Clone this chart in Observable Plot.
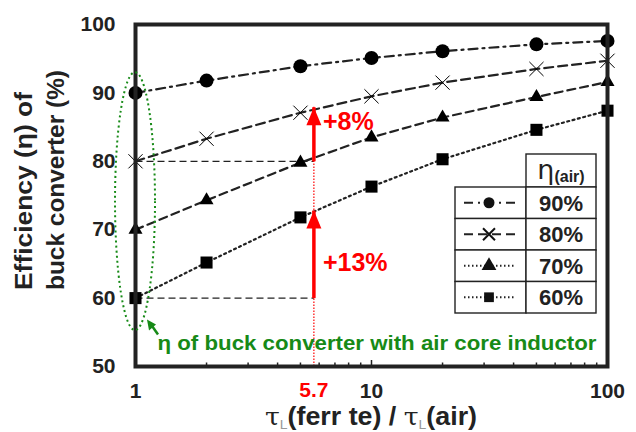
<!DOCTYPE html>
<html><head><meta charset="utf-8">
<script src="https://cdn.jsdelivr.net/npm/d3@7"></script>
<script src="https://cdn.jsdelivr.net/npm/@observablehq/plot@0.6"></script>
<style>body{margin:0;background:#fff;font-family:"Liberation Sans",Arial,sans-serif} #chart{width:636px;height:432px}</style>
</head><body><div id="chart"></div>
<script>
// ---- data ----
const ratios = [1, 2, 5, 10, 20, 50, 100];
const eta90 = [90, 91.8, 93.9, 95.1, 96.1, 97.1, 97.6];
const eta80 = [80, 83.3, 87.1, 89.5, 91.5, 93.5, 94.7];
const eta70 = [70, 74.3, 79.8, 83.5, 86.4, 89.4, 91.6];
const eta60 = [60, 65.2, 71.8, 76.3, 80.3, 84.6, 87.4];
const seriesLabels = ["90%", "80%", "70%", "60%"];
const yTicks = [50, 60, 70, 80, 90, 100];
const xTicks = [1, 10, 100];
const minorTicks = [2, 3, 4, 5, 6, 7, 8, 9, 20, 30, 40, 50, 60, 70, 80, 90];
const markRatio = 5.7;
const gainFrom = [80, 60];
const gainTo = [87.9, 72.8];
const gainLabelY = [85.7, 65.2];
const gainLabels = ["+8%", "+13%"];
const noteText = "η of buck converter with air core inductor";
const noteY = 53.4;

// ---- styles ----
const INK = "#222";
const GREEN = "#178a17";
const RED = "#ff0000";
const styles = [
  {dash: "9,5,2,5", symbol: "circle", r: 7, fill: "#000", stroke: "none", sw: 0},
  {dash: "9,5", symbol: "times", r: 6.5, fill: "none", stroke: "#000", sw: 1},
  {dash: "8,5", symbol: "triangle", r: 5.2, fill: "#000", stroke: "none", sw: 0},
  {dash: "2,3.5", symbol: "square", r: 6.8, fill: "#000", stroke: "none", sw: 0}
];
const allSeries = [eta90, eta80, eta70, eta60];
const rows = [];
allSeries.forEach((vals, s) => ratios.forEach((r, i) => rows.push({s, x: r, y: vals[i]})));

const arrowHead = {draw(ctx) { ctx.moveTo(0, 0); ctx.lineTo(7.5, 18); ctx.lineTo(-7.5, 18); ctx.closePath(); }};
const gains = gainFrom.map((f, i) => ({x: markRatio, y1: f, y2: gainTo[i], ly: gainLabelY[i], label: gainLabels[i]}));

const marks = [];
// reference dashed guides
marks.push(Plot.link(gainFrom, {x1: 1, x2: markRatio, y1: d => d, y2: d => d, stroke: INK, strokeWidth: 1.2, strokeDasharray: "7,4"}));
marks.push(Plot.ruleX([markRatio], {y1: 50, y2: gainTo[0], stroke: RED, strokeWidth: 1.2, strokeDasharray: "1.5,1.5"}));
// series
allSeries.forEach((vals, s) => {
  const st = styles[s];
  const data = rows.filter(d => d.s === s);
  marks.push(Plot.line(data, {x: "x", y: "y", stroke: INK, strokeWidth: 2.2, strokeDasharray: st.dash}));
  marks.push(Plot.dot(data, {x: "x", y: "y", symbol: st.symbol, r: st.r, fill: st.fill, stroke: st.stroke, strokeWidth: st.sw}));
});
// red gain arrows
marks.push(Plot.link(gains, {x1: "x", x2: "x", y1: "y1", y2: "y2", stroke: RED, strokeWidth: 3.5}));
marks.push(Plot.dot(gains, {x: "x", y: "y2", symbol: arrowHead, r: 5, fill: RED, stroke: "none"}));
marks.push(Plot.text(gains, {x: "x", y: "ly", text: "label", dx: 9, textAnchor: "start", fill: RED, fontSize: 25, fontWeight: "bold"}));
// red 5.7 label
marks.push(Plot.text([markRatio], {x: d => d, y: 50, text: d => String(d), dy: 24, fill: RED, fontSize: 21, fontWeight: "bold"}));
// green note
marks.push(Plot.text([noteText], {x: 1, y: noteY, text: d => d, dx: 22, textAnchor: "start", fill: GREEN, fontSize: 20, fontWeight: "bold"}));
// axes
marks.push(Plot.axisY(yTicks, {tickSize: 0, tickPadding: 20, fontSize: 21, fontWeight: "bold", fill: INK, label: null}));
marks.push(Plot.axisX(xTicks, {tickSize: -6, tickPadding: 22.5, fontSize: 21, fontWeight: "bold", fill: INK, stroke: INK, strokeWidth: 1.5, label: null}));
marks.push(Plot.axisX(minorTicks, {tickSize: -3.5, tickFormat: () => "", stroke: INK, strokeWidth: 1.5, label: null}));
marks.push(Plot.frame({stroke: INK, strokeWidth: 4}));

const plot = Plot.plot({
  width: 636, height: 432,
  marginLeft: 135, marginRight: 29, marginTop: 24, marginBottom: 66,
  style: {fontFamily: "'Liberation Sans', Arial, sans-serif", background: "#fff", overflow: "visible"},
  x: {type: "log", domain: [1, 100]},
  y: {domain: [50, 100]},
  marks
});
document.getElementById("chart").appendChild(plot);

const svg = d3.select(plot);
const X = plot.scale("x"), Y = plot.scale("y");
const FONT = "'Liberation Sans', Arial, sans-serif";

// stretch the green note to the reference width
svg.selectAll("text").filter(function () { return this.textContent === noteText; })
  .attr("textLength", 439).attr("lengthAdjust", "spacingAndGlyphs");

// green ellipse around air-core points
svg.append("ellipse")
  .attr("cx", X.apply(1)).attr("cy", Y.apply(74.1))
  .attr("rx", 20).attr("ry", 129)
  .attr("fill", "none").attr("stroke", GREEN).attr("stroke-width", 2).attr("stroke-dasharray", "2,3");
// green pointer arrow
{
  const tx = X.apply(1) + 12, ty = Y.apply(56.8);
  const g = svg.append("g").attr("fill", GREEN).attr("stroke", GREEN);
  g.append("line").attr("x1", tx + 11).attr("y1", ty + 15).attr("x2", tx + 4).attr("y2", ty + 5).attr("stroke-width", 2.5);
  g.append("path").attr("d", `M${tx},${ty} l2,11 l7,-6 z`).attr("stroke", "none");
}

// axis titles
const xt = svg.append("text").attr("x", 371).attr("y", 425).attr("text-anchor", "middle")
  .attr("font-family", FONT).attr("font-size", 25).attr("font-weight", "bold").attr("fill", INK)
  .attr("textLength", 212).attr("lengthAdjust", "spacingAndGlyphs");
xt.append("tspan").attr("font-family", "'DejaVu Serif', serif").attr("font-weight", "normal").text("τ");
xt.append("tspan").attr("font-size", 13).attr("font-weight", "normal").attr("dy", 4).attr("fill", "#999").text("L");
xt.append("tspan").attr("dy", -4).text("(ferr te) / ");
xt.append("tspan").attr("font-family", "'DejaVu Serif', serif").attr("font-weight", "normal").text("τ");
xt.append("tspan").attr("font-size", 13).attr("font-weight", "normal").attr("dy", 4).attr("fill", "#999").text("L");
xt.append("tspan").attr("dy", -4).text("(air)");

[["Efficiency (η) of", 32, 198], ["buck converter (%)", 64, 220]].forEach(([t, bx, len]) => {
  svg.append("text").attr("transform", `translate(${bx},290) rotate(-90)`).attr("text-anchor", "start")
    .attr("font-family", FONT).attr("font-size", 24).attr("font-weight", "bold").attr("fill", INK)
    .attr("textLength", len).attr("lengthAdjust", "spacingAndGlyphs").text(t);
});

// legend table
{
  const L = 455, M = 526, R = 596, top = 154, r0 = 187, rh = 31.5;
  const g = svg.append("g").attr("font-family", FONT);
  const cell = (x, y, w, h) => g.append("rect").attr("x", x).attr("y", y).attr("width", w).attr("height", h)
    .attr("fill", "#fff").attr("stroke", INK).attr("stroke-width", 1.4);
  cell(M, top, R - M, r0 - top);
  const ht = g.append("text").attr("x", (M + R) / 2).attr("y", 179).attr("text-anchor", "middle").attr("fill", INK);
  ht.append("tspan").attr("font-size", 27).attr("font-family", "'DejaVu Sans', sans-serif").text("η");
  ht.append("tspan").attr("font-size", 16).attr("font-weight", "bold").attr("dy", 3).text("(air)");
  seriesLabels.forEach((lab, i) => {
    const y = r0 + i * rh;
    cell(L, y, M - L, rh);
    cell(M, y, R - M, rh);
    g.append("text").attr("x", (M + R) / 2).attr("y", y + rh / 2).attr("dy", "0.36em").attr("text-anchor", "middle")
      .attr("font-size", 22).attr("font-weight", "bold").attr("fill", INK).text(lab);
    const st = styles[i], cy = y + rh / 2, cx = 489;
    g.append("line").attr("x1", 464).attr("x2", 516).attr("y1", cy).attr("y2", cy)
      .attr("stroke", INK).attr("stroke-width", 2).attr("stroke-dasharray", i < 2 ? st.dash : "1.5,2.5");
    const sym = {circle: d3.symbolCircle, times: d3.symbolTimes, triangle: d3.symbolTriangle, square: d3.symbolSquare}[st.symbol];
    g.append("path").attr("transform", `translate(${cx},${cy})`).attr("d", d3.symbol(sym, Math.PI * 5.5 * 5.5)())
      .attr("fill", st.fill === "none" ? "none" : "#111").attr("stroke", st.fill === "none" ? "#111" : "none").attr("stroke-width", 2);
  });
}
</script>
</body></html>
